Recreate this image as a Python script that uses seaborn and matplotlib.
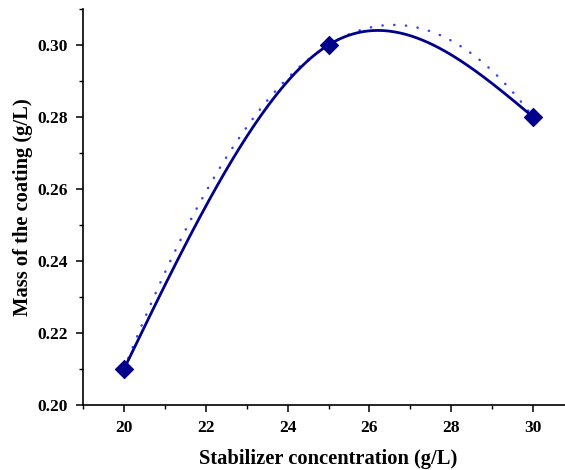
import numpy as np
import pandas as pd
import matplotlib
matplotlib.use("Agg")
import matplotlib.pyplot as plt
from matplotlib.ticker import MultipleLocator
import seaborn as sns

# Measured coating mass versus stabilizer concentration
stabilizer_conc = [20, 25, 30]          # g/L
coating_mass = [0.21, 0.30, 0.28]       # g/L

x_ticks = [20, 22, 24, 26, 28, 30]
y_ticks = [0.20, 0.22, 0.24, 0.26, 0.28, 0.30]


def natural_cubic_spline(x, y, xs):
    """Evaluate a natural cubic spline through (x, y) at xs."""
    x = np.asarray(x, float)
    y = np.asarray(y, float)
    n = len(x)
    h = np.diff(x)
    A = np.zeros((n, n))
    r = np.zeros(n)
    A[0, 0] = A[-1, -1] = 1.0
    for i in range(1, n - 1):
        A[i, i - 1] = h[i - 1]
        A[i, i] = 2 * (h[i - 1] + h[i])
        A[i, i + 1] = h[i]
        r[i] = 6 * ((y[i + 1] - y[i]) / h[i] - (y[i] - y[i - 1]) / h[i - 1])
    M = np.linalg.solve(A, r)
    out = np.empty_like(xs)
    for k, xv in enumerate(xs):
        i = min(max(np.searchsorted(x, xv) - 1, 0), n - 2)
        a, b, hi = x[i + 1] - xv, xv - x[i], h[i]
        out[k] = (M[i] * a**3 / (6 * hi) + M[i + 1] * b**3 / (6 * hi)
                  + (y[i] / hi - M[i] * hi / 6) * a
                  + (y[i + 1] / hi - M[i + 1] * hi / 6) * b)
    return out


xs = np.linspace(min(stabilizer_conc), max(stabilizer_conc), 300)
spline_df = pd.DataFrame({"x": xs, "y": natural_cubic_spline(stabilizer_conc, coating_mass, xs)})
poly = np.polyfit(stabilizer_conc, coating_mass, 2)
fit_df = pd.DataFrame({"x": xs, "y": np.polyval(poly, xs)})
points_df = pd.DataFrame({"x": stabilizer_conc, "y": coating_mass})

sns.set_theme(style="ticks")
plt.rcParams["font.family"] = ["Liberation Serif", "DejaVu Serif"]
plt.rcParams["font.weight"] = "bold"
plt.rcParams["text.color"] = "black"
plt.rcParams["axes.labelcolor"] = "black"
plt.rcParams["xtick.color"] = "black"
plt.rcParams["ytick.color"] = "black"

fig = plt.figure(figsize=(5.65, 4.7), dpi=100)
ax = fig.add_axes([0.147, 0.138, 1.016 - 0.147, 0.981 - 0.138])

navy = "#00008B"
sns.lineplot(data=fit_df, x="x", y="y", ax=ax, color="#3344FF",
             linewidth=1.8, linestyle=(0, (0.1, 4.6)), dash_capstyle="round")
sns.lineplot(data=spline_df, x="x", y="y", ax=ax, color=navy, linewidth=2.0)
sns.scatterplot(data=points_df, x="x", y="y", ax=ax, marker="D", s=85,
                color=navy, edgecolor=navy, linewidth=0.8, zorder=5)

ax.set_xlim(19, 31)
ax.set_ylim(0.20, 0.31)
ax.set_xticks(x_ticks)
ax.set_yticks(y_ticks)
ax.set_xticklabels([str(t) for t in x_ticks])
ax.set_yticklabels([f"{t:.2f}" for t in y_ticks])
ax.xaxis.set_minor_locator(MultipleLocator(1))
ax.yaxis.set_minor_locator(MultipleLocator(0.01))

ax.tick_params(which="major", direction="out", length=5, width=1.1,
               labelsize=12.5, colors="black", pad=6)
ax.tick_params(which="minor", direction="out", length=3, width=1.0, colors="black")
for lbl in ax.get_xticklabels() + ax.get_yticklabels():
    lbl.set_fontweight("bold")

sns.despine(ax=ax)
for side in ("left", "bottom"):
    ax.spines[side].set_linewidth(1.2)
    ax.spines[side].set_color("black")

ax.set_xlabel("Stabilizer concentration (g/L)", fontsize=14.8, fontweight="bold", labelpad=9)
ax.set_ylabel("Mass of the coating (g/L)", fontsize=14.8, fontweight="bold", labelpad=3)

fig.savefig("out.png", dpi=100)
